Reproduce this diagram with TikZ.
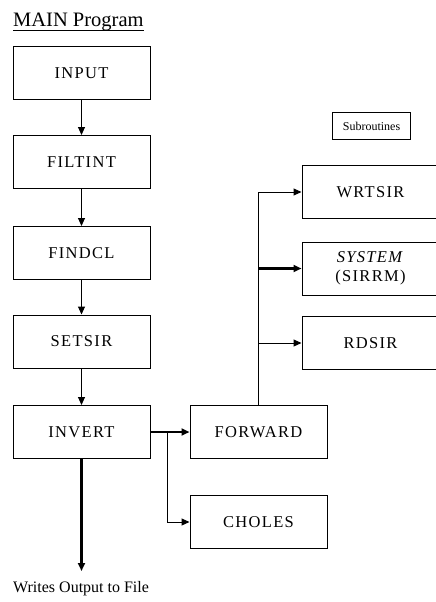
\documentclass[tikz,border=0pt]{standalone}
\usepackage{fontspec}
\setmainfont{Liberation Serif}
\newfontfamily\spacedfont[LetterSpace=8]{Liberation Serif}
\usetikzlibrary{arrows.meta}
\begin{document}
\begin{tikzpicture}[x=1pt,y=-1pt,
  box/.style={draw, line width=1pt, minimum width=137pt, minimum height=53pt, inner sep=0pt, align=center, font=\spacedfont\fontsize{16.5}{19}\selectfont},
  arr/.style={-{Triangle[length=8pt,width=7pt]}, line width=1pt},
  tarr/.style={arr, line width=2.2pt},
]
\clip (0,0) rectangle (436,602);
\fill[white] (0,0) rectangle (436,602);
\node[anchor=base west, inner sep=0pt, font=\fontsize{20.5}{24}\selectfont] (title) at (13,27) {MAIN Program};
\draw[line width=0.9pt] ([yshift=-3pt]title.base west) -- ([yshift=-3pt]title.base east);

\node[box] (input) at (81.5,73) {INPUT};
\node[box] (filtint) at (81.5,162) {FILTINT};
\node[box] (findcl) at (81.5,253) {FINDCL};
\node[box] (setsir) at (81.5,341.5) {SETSIR};
\node[box] (invert) at (81.5,432) {INVERT};
\node[box] (forward) at (258.5,432) {FORWARD};
\node[box] (choles) at (258.5,522) {CHOLES};
\node[box] (wrtsir) at (370.5,192) {WRTSIR};
\node[box] (system) at (370.5,268.5) {\textit{SYSTEM}\\(SIRRM)};
\node[box] (rdsir) at (370.5,343) {RDSIR};
\node[draw, line width=0.9pt, minimum width=78pt, minimum height=27pt, inner sep=0pt, font=\fontsize{12}{14}\selectfont] (subr) at (371.5,126) {Subroutines};
\node[anchor=base west, inner sep=0pt, font=\fontsize{16}{19}\selectfont] (out) at (13,592) {Writes Output to File};

\draw[arr] (input) -- (filtint);
\draw[arr] (filtint) -- (findcl);
\draw[arr] (findcl) -- (setsir);
\draw[arr] (setsir) -- (invert);

\coordinate (outend) at (81.5,571);
\draw[tarr] (invert.south) -- (outend);
\draw[tarr] (invert.east) -- (forward.west);
\coordinate (br1) at (167,432);
\draw[arr] (br1) |- (choles.west);

\draw[line width=1pt] (forward.north) -- (forward.north |- wrtsir.west);
\draw[arr] (forward.north |- wrtsir.west) -- (wrtsir.west);
\draw[tarr] (forward.north |- system.west) -- (system.west);
\draw[arr] (forward.north |- rdsir.west) -- (rdsir.west);
\end{tikzpicture}
\end{document}
